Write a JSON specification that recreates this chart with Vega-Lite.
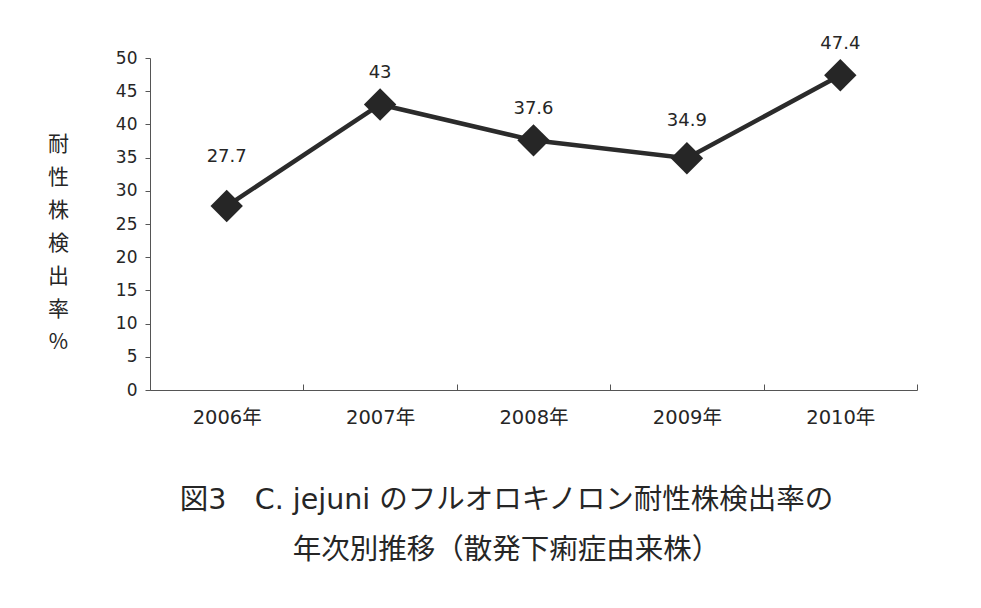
{
  "$schema": "https://vega.github.io/schema/vega-lite/v6.json",
  "autosize": {"type": "none"},
  "padding": {"left": 150, "top": 58, "right": 64, "bottom": 218},
  "width": 767,
  "height": 332,
  "background": "white",
  "config": {
    "view": {"stroke": null},
    "font": "DejaVu Sans, Noto Sans CJK JP"
  },
  "title": {
    "text": ["図3　C. jejuni のフルオロキノロン耐性株検出率の", "年次別推移（散発下痢症由来株）"],
    "orient": "bottom",
    "anchor": "middle",
    "frame": "group",
    "offset": 59,
    "dx": -27,
    "font": "DejaVu Sans, Noto Sans CJK JP",
    "fontSize": 28.5,
    "fontWeight": "normal",
    "color": "#262626",
    "lineHeight": 50,
    "baseline": "top"
  },
  "data": {
    "values": [
      {"year": "2006年", "rate": 27.7},
      {"year": "2007年", "rate": 43},
      {"year": "2008年", "rate": 37.6},
      {"year": "2009年", "rate": 34.9},
      {"year": "2010年", "rate": 47.4}
    ]
  },
  "encoding": {
    "x": {
      "field": "year",
      "type": "ordinal",
      "sort": null,
      "scale": {"type": "band", "paddingInner": 0, "paddingOuter": 0},
      "axis": {
        "title": null,
        "labelAngle": 0,
        "labelFont": "DejaVu Sans, Noto Sans CJK JP",
        "labelFontSize": 19.5,
        "labelColor": "#262626",
        "labelPadding": 24,
        "tickBand": "extent",
        "tickSize": -6,
        "tickColor": "#555",
        "domainColor": "#555",
        "grid": false
      }
    },
    "y": {
      "field": "rate",
      "type": "quantitative",
      "scale": {"domain": [0, 50], "nice": false},
      "axis": {
        "values": [0, 5, 10, 15, 20, 25, 30, 35, 40, 45, 50],
        "grid": false,
        "tickSize": 5,
        "tickColor": "#555",
        "domainColor": "#555",
        "labelFont": "DejaVu Sans",
        "labelFontSize": 17,
        "labelColor": "#262626",
        "labelPadding": 8,
        "title": ["耐", "性", "株", "検", "出", "率", "%"],
        "titleAngle": 0,
        "titleAlign": "center",
        "titleBaseline": "top",
        "titleX": -92,
        "titleY": 75,
        "titleFont": "Noto Sans CJK JP",
        "titleFontSize": 21,
        "titleFontWeight": "normal",
        "titleColor": "#262626",
        "titleLineHeight": 33
      }
    }
  },
  "layer": [
    {
      "mark": {"type": "line", "color": "#2b2b2b", "strokeWidth": 4.5}
    },
    {
      "mark": {"type": "point", "shape": "diamond", "size": 1050, "filled": true, "color": "#262626", "opacity": 1}
    },
    {
      "mark": {
        "type": "text",
        "font": "DejaVu Sans",
        "fontSize": 18,
        "color": "#262626",
        "baseline": "middle",
        "dy": {"expr": "datum.year === '2006年' ? -49 : (datum.year === '2009年' ? -37 : -31)"}
      },
      "encoding": {"text": {"field": "rate", "type": "quantitative"}}
    }
  ]
}
